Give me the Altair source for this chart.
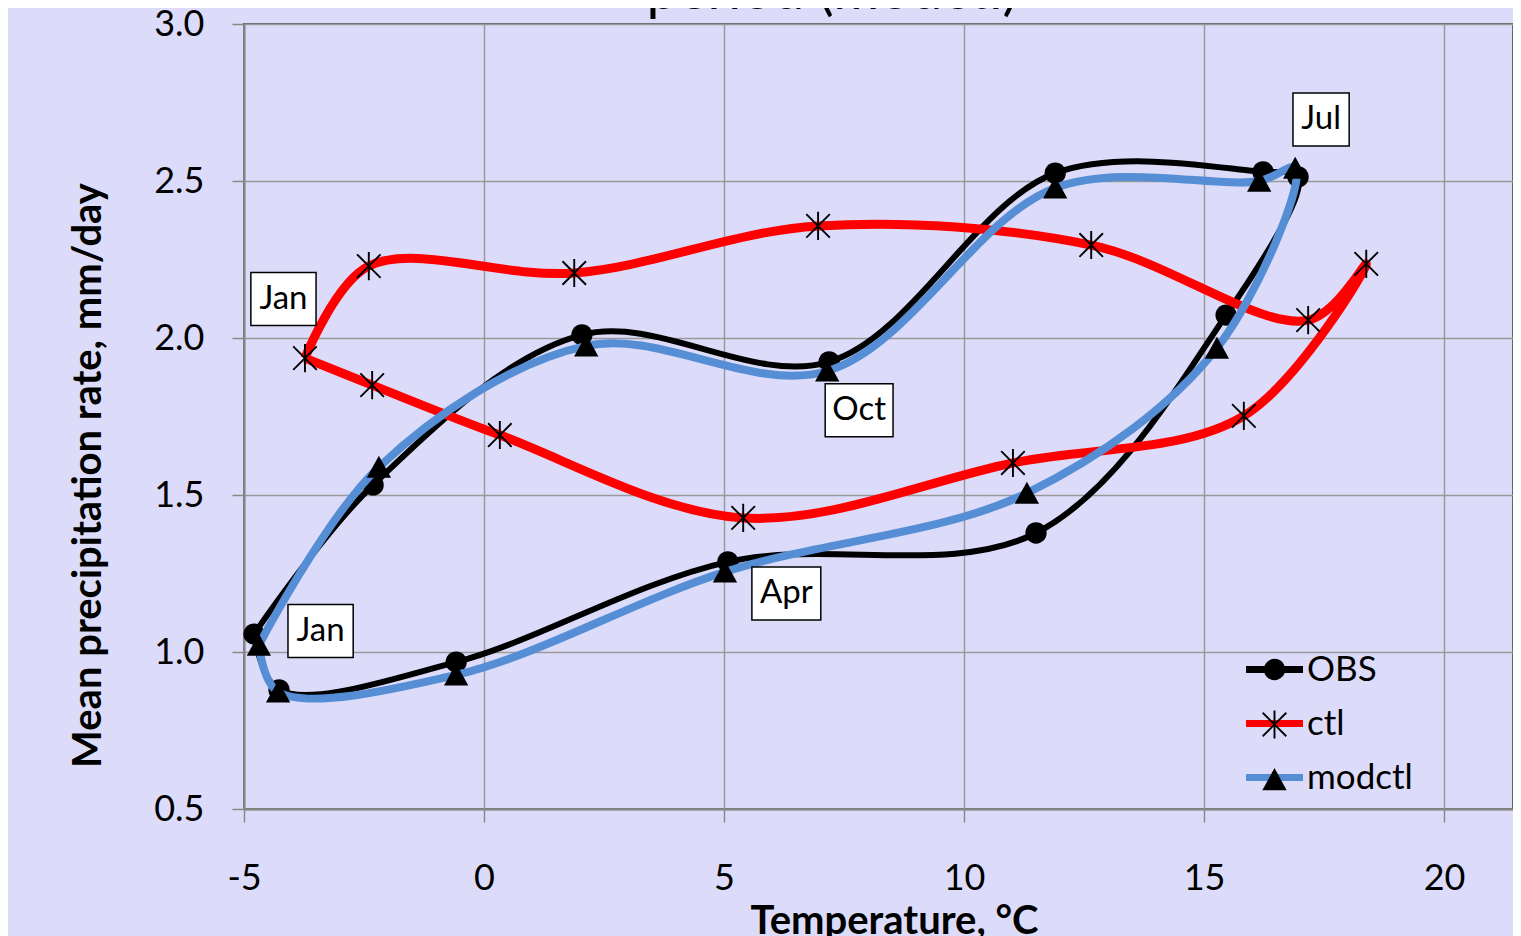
import altair as alt
import pandas as pd

# ---------------- data ----------------
months = ["Jan", "Feb", "Mar", "Apr", "May", "Jun", "Jul", "Aug", "Sep", "Oct", "Nov", "Dec"]
series_names = ["OBS", "ctl", "modctl"]

obs_temp = [-4.79, -4.27, -0.58, 5.08, 11.50, 15.46, 16.96, 16.23, 11.90, 7.19, 2.04, -2.31]
obs_prec = [1.057, 0.879, 0.968, 1.287, 1.379, 2.073, 2.513, 2.529, 2.525, 1.924, 2.010, 1.532]

ctl_temp = [-3.73, -2.33, 0.33, 5.40, 11.02, 15.83, 18.38, 17.17, 12.65, 6.96, 1.88, -2.40]
ctl_prec = [1.936, 1.850, 1.691, 1.427, 1.602, 1.752, 2.236, 2.057, 2.296, 2.357, 2.207, 2.229]

modctl_temp = [-4.69, -4.29, -0.58, 5.02, 11.31, 15.27, 16.90, 16.15, 11.90, 7.15, 2.13, -2.19]
modctl_prec = [1.022, 0.873, 0.927, 1.255, 1.506, 1.968, 2.541, 2.500, 2.478, 1.895, 1.975, 1.589]

x_ticks = [-5, 0, 5, 10, 15, 20]
y_ticks = [0.5, 1.0, 1.5, 2.0, 2.5, 3.0]
title_text = "period (modctl)"

# ---------------- table (each loop is closed by repeating January) ----------------
rows = []
for name, temps, precs in [("OBS", obs_temp, obs_prec),
                           ("ctl", ctl_temp, ctl_prec),
                           ("modctl", modctl_temp, modctl_prec)]:
    seq = list(zip(months, temps, precs))
    seq = seq + [seq[0]]
    for i, (m, t, p) in enumerate(seq):
        rows.append({"series": name, "marker": "m_" + name, "month": m,
                     "idx": i, "temp": t, "prec": p})
df = pd.DataFrame(rows)

# ---------------- styles ----------------
BG = "#dcdcfa"
FONT = "Lato"
line_colors = ["#000000", "#ff0000", "#558ed5"]
line_widths = {"OBS": 6, "ctl": 9, "modctl": 8}


def circle_path(r):
    return f"M{-r},0A{r},{r} 0 1,0 {r},0A{r},{r} 0 1,0 {-r},0Z"


def star_path(L, V, t):
    o = t / 2 ** 0.5
    f = lambda v: f"{v:.3f}"
    d1 = [(-L + o, -L - o), (L + o, L - o), (L - o, L + o), (-L - o, -L + o)]
    d2 = [(-L + o, L + o), (-L - o, L - o), (L - o, -L - o), (L + o, -L + o)]
    vb = [(-t, -V), (t, -V), (t, V), (-t, V)]
    out = ""
    for poly in (d1, d2, vb):
        out += "M" + "L".join(f"{f(a)},{f(b)}" for a, b in poly) + "Z"
    return out


marker_paths = [
    circle_path(0.56),
    star_path(0.62, 0.74, 0.05),
    "M0,-0.6L0.64,0.56L-0.64,0.56Z",
]
marker_names = ["m_" + s for s in series_names]

PLOT_W = 1269
PLOT_H = 785
X_MAX = -5 + PLOT_W / 48.0

LEG_X = 1008
LEG_Y = 623
LEG_COMMON = dict(title=None, orient="none", legendX=LEG_X, legendY=LEG_Y,
                  symbolSize=1444, symbolStrokeWidth=7, padding=0,
                  labelFont=FONT, labelFontSize=35, labelColor="black",
                  labelOffset=10, labelLimit=0)

x_enc = alt.X("temp:Q",
              scale=alt.Scale(domain=[-5, X_MAX], nice=False, zero=False),
              axis=alt.Axis(values=x_ticks, tickSize=13, labelPadding=39,
                            labelExpr="'' + datum.value", labelFlush=False,
                            labelOverlap=False, titleX=650, titleY=124,
                            titleBaseline="alphabetic", titleAlign="center"),
              title="Temperature, °C")
y_enc = alt.Y("prec:Q",
              scale=alt.Scale(domain=[0.5, 3.0], nice=False, zero=False),
              axis=alt.Axis(values=y_ticks, format=".1f", tickSize=12,
                            labelPadding=28, labelOverlap=False,
                            titleX=-156, titleY=451, titleAngle=270,
                            titleBaseline="middle", titleAlign="center"),
              title="Mean precipitation rate, mm/day")
color_enc = alt.Color("series:N",
                      scale=alt.Scale(domain=series_names, range=line_colors),
                      legend=alt.Legend(symbolType="M-1.5,0L1.5,0", rowPadding=13,
                                        **LEG_COMMON))
shape_enc = alt.Shape("marker:N",
                      scale=alt.Scale(domain=marker_names, range=marker_paths),
                      legend=alt.Legend(symbolFillColor="black",
                                        symbolStrokeColor="transparent",
                                        labelOpacity=0, rowPadding=1, **LEG_COMMON))

base = alt.Chart(df)
layers = []
for s in series_names:
    sub = base.transform_filter(alt.datum.series == s)
    layers.append(
        sub.mark_line(interpolate="catmull-rom", strokeWidth=line_widths[s])
        .encode(x=x_enc, y=y_enc, color=color_enc, order=alt.Order("idx:Q"))
    )
    layers.append(
        sub.transform_filter(alt.datum.idx < 12)
        .mark_point(filled=True, color="black", size=1444, opacity=1)
        .encode(x=x_enc, y=y_enc, shape=shape_enc)
    )

# month call-outs: (text, series, month, dx, dy, half-width in symbol units)
callouts = [
    ("Jan", "ctl", "Jan", -21.5, -59, 1.23),
    ("Jan", "OBS", "Jan", 66.5, -3, 1.23),
    ("Oct", "OBS", "Oct", 30, 48.5, 1.28),
    ("Apr", "OBS", "Apr", 58.5, 31.5, 1.30),
    ("Jul", "OBS", "Jul", 23, -57.5, 1.06),
]
for txt, s, m, dx, dy, hw in callouts:
    sub = base.transform_filter((alt.datum.series == s) & (alt.datum.month == m)
                                & (alt.datum.idx < 12))
    box = f"M{-hw},-1L{hw},-1L{hw},1L{-hw},1Z"
    layers.append(
        sub.mark_point(shape=box, size=2809, filled=True, fill="white",
                       stroke="black", strokeWidth=1.5, opacity=1,
                       xOffset=dx, yOffset=dy)
        .encode(x=x_enc, y=y_enc)
    )
    layers.append(
        sub.mark_text(text=txt, font=FONT, fontSize=33, color="black",
                      dx=dx, dy=dy, align="center", baseline="middle")
        .encode(x=x_enc, y=y_enc)
    )

title_layer = alt.Chart(pd.DataFrame({"t": [title_text]})).mark_text(
    font=FONT, fontSize=56, color="black", align="center", baseline="alphabetic"
).encode(x=alt.value(588), y=alt.value(-15), text="t:N")
layers.append(title_layer)

chart = alt.layer(*layers).properties(
    width=PLOT_W, height=PLOT_H,
    autosize=alt.AutoSizeParams(type="none"),
    padding={"left": 236, "top": 16, "right": 0, "bottom": 128},
    background=BG,
).configure_view(
    fill=BG, stroke="#666666", strokeWidth=2
).configure_axis(
    gridColor="#999999", gridWidth=1.5, domainColor="#888888", domainWidth=2,
    tickColor="#888888", tickWidth=1.5,
    labelFont=FONT, labelFontSize=36, labelColor="black",
    titleFont=FONT, titleFontSize=40, titleFontWeight="bold", titleColor="black",
)

chart.save("out.html", embed_options={"renderer": "svg", "actions": False})
